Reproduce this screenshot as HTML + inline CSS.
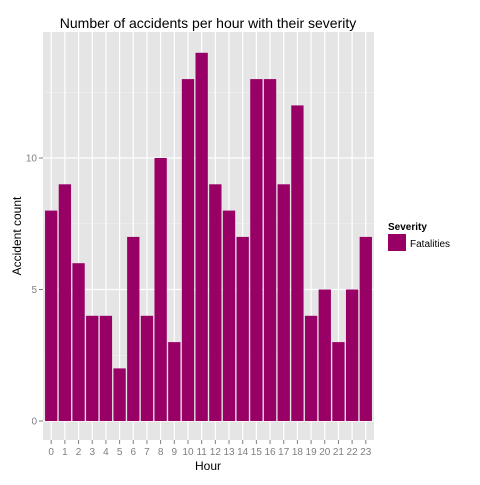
<!DOCTYPE html>
<html><head><style>body{margin:0;background:#fff}svg{font-family:"Liberation Sans",sans-serif}</style></head>
<body>
<svg id="chart" width="480" height="480" xmlns="http://www.w3.org/2000/svg">
<rect x="0" y="0" width="480" height="480" fill="#fff"/>
<rect x="43" y="32" width="331" height="408" fill="#e5e5e5"/>
<g id="grid"></g><g id="bars"></g><g id="axes"></g>
<text x="208" y="28" font-size="14" text-anchor="middle" fill="#000">Number of accidents per hour with their severity</text>
<text x="208" y="470" font-size="12" text-anchor="middle">Hour</text>
<text transform="translate(21,236) rotate(-90)" font-size="12" text-anchor="middle">Accident count</text>
<g>
<text x="388" y="230" font-size="10" font-weight="bold">Severity</text>
<rect x="388" y="234" width="18" height="17" fill="#990066"/>
<text x="410" y="247" font-size="10">Fatalities</text>
</g>
</svg>
<script>
const hours=[0,1,2,3,4,5,6,7,8,9,10,11,12,13,14,15,16,17,18,19,20,21,22,23];
const counts=[8,9,6,4,4,2,7,4,10,3,13,14,9,8,7,13,13,9,12,4,5,3,5,7];
const yTicks=[0,5,10];
const yMinor=[2.5,7.5,12.5];
const NS="http://www.w3.org/2000/svg";
const L=43,R=374,T=32,B=440;
const step=(R-L)/(hours.length-1+1.2);
const xs=i=>L+(0.6+i)*step;
const ys=v=>421-v*26.3;
function mk(t,a,p){const e=document.createElementNS(NS,t);for(const k in a)e.setAttribute(k,a[k]);p.appendChild(e);return e;}
const grid=document.getElementById('grid'),bars=document.getElementById('bars'),axes=document.getElementById('axes');
yMinor.forEach(v=>{const l=mk('line',{x1:L,x2:R,y1:ys(v),y2:ys(v),stroke:'#f2f2f2','stroke-width':0.6},grid);

});
yTicks.forEach(v=>{const l=mk('line',{x1:L,x2:R,y1:ys(v),y2:ys(v),stroke:'#fff','stroke-width':1.2},grid);


const tk=mk('line',{x1:L-4,x2:L,y1:ys(v),y2:ys(v),stroke:'#7f7f7f'},axes);


const t=mk('text',{x:L-6,y:ys(v)+3.5,'font-size':10,'text-anchor':'end',fill:'#7f7f7f'},axes);t.textContent=v;

});
hours.forEach((h,i)=>{const x=xs(i);
const g=mk('line',{x1:x,x2:x,y1:T,y2:B,stroke:'#fff','stroke-width':1.2},grid);


const w=step*0.9;
const b=mk('rect',{x:x-w/2,y:ys(counts[i]),width:w,height:ys(0)-ys(counts[i]),fill:'#990066'},bars);


const tk=mk('line',{x1:x,x2:x,y1:B,y2:B+4,stroke:'#7f7f7f'},axes);


const t=mk('text',{x:x,y:B+15,'font-size':10,'text-anchor':'middle',fill:'#7f7f7f'},axes);t.textContent=h;

});
</script>
</body></html>
